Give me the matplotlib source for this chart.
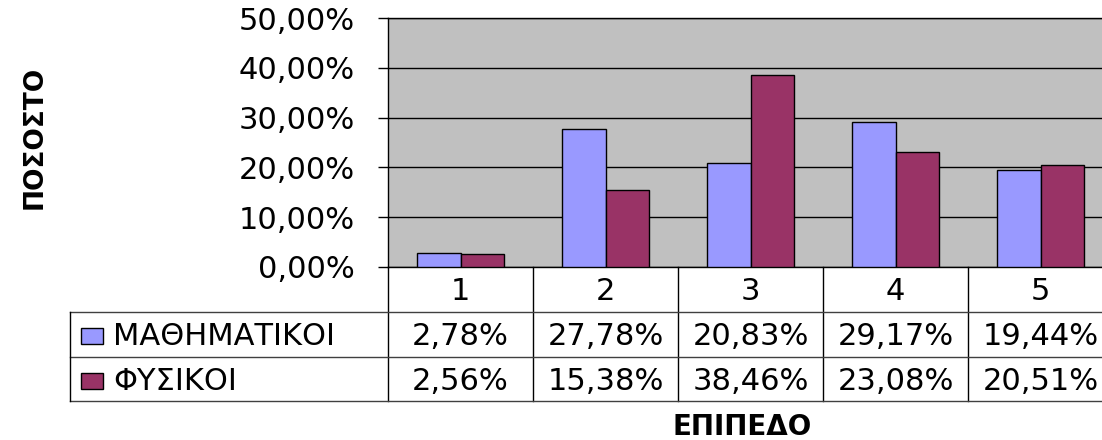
import matplotlib
matplotlib.use('Agg')
import matplotlib.pyplot as plt
import matplotlib.transforms as mtransforms
from matplotlib.patches import Rectangle
from matplotlib.ticker import FuncFormatter, MultipleLocator

# data (percent)
levels = ['1', '2', '3', '4', '5']
series_names = ['ΜΑΘΗΜΑΤΙΚΟΙ', 'ΦΥΣΙΚΟΙ']
math_pct = [2.78, 27.78, 20.83, 29.17, 19.44]
phys_pct = [2.56, 15.38, 38.46, 23.08, 20.51]
colors = ['#9999ff', '#993366']


def pct(v):
    return f'{v:.2f}%'.replace('.', ',')


plt.rcParams['font.family'] = ['DejaVu Sans']

W, H = 1102, 440
fig = plt.figure(figsize=(W / 100, H / 100), dpi=100)

# plot area in pixels (Excel-like layout, right side is cut by the image edge)
left, right, top, bottom = 388, 1102, 18, 267
col_w = 145
ax = fig.add_axes([left / W, 1 - bottom / H, (right - left) / W, (bottom - top) / H])
ax.set_facecolor('#c0c0c0')

x = list(range(len(levels)))
bw = 0.3
ax.bar([i - bw / 2 for i in x], math_pct, bw, color=colors[0], edgecolor='black', lw=1, zorder=3)
ax.bar([i + bw / 2 for i in x], phys_pct, bw, color=colors[1], edgecolor='black', lw=1, zorder=3)

ax.set_ylim(0, 50)
ax.set_xlim(-0.5, -0.5 + (right - left) / col_w)
ax.yaxis.set_major_locator(MultipleLocator(10))
ax.yaxis.set_major_formatter(FuncFormatter(lambda v, p: pct(v)))
ax.grid(axis='y', color='black', lw=1, zorder=1)
ax.set_axisbelow(True)
ax.set_xticks([])
ax.tick_params(axis='y', length=7, width=1, pad=17, labelsize=22)
ax.spines['right'].set_visible(False)
for s in ['left', 'top', 'bottom']:
    ax.spines[s].set_linewidth(1)


# helpers: pixel -> axes coords
def ay(py):
    return (bottom - py) / (bottom - top)


def axx(px):
    return (px - left) / (right - left)


trans = mtransforms.blended_transform_factory(ax.transData, ax.transAxes)
row_lines = [ay(312), ay(357), ay(401)]
line_kw = dict(color='black', lw=1, clip_on=False)

# column separators of the data table
for k in range(len(levels) + 1):
    xv = -0.5 + k
    ax.plot([xv, xv], [0, row_lines[-1]], transform=trans, **line_kw)

# row separators
for yv in row_lines:
    ax.plot([axx(70), 1], [yv, yv], transform=ax.transAxes, color='#404040', lw=1, clip_on=False)
ax.plot([axx(70), axx(70)], [row_lines[0], row_lines[-1]], transform=ax.transAxes, **line_kw)

# category labels
for i, lab in enumerate(levels):
    ax.text(i, ay(291), lab, transform=trans, ha='center', va='center', fontsize=22, clip_on=False)

# table rows
row_y = [ay(336), ay(381)]
for r, (name, vals) in enumerate(zip(series_names, [math_pct, phys_pct])):
    ax.add_patch(Rectangle((axx(81), row_y[r] - 8 / (bottom - top)), 22 / (right - left), 16 / (bottom - top),
                           transform=ax.transAxes, facecolor=colors[r], edgecolor='black', lw=1, clip_on=False))
    ax.text(axx(113), row_y[r], name, transform=ax.transAxes, ha='left', va='center', fontsize=22, clip_on=False)
    for i, v in enumerate(vals):
        ax.text(i, row_y[r], pct(v), transform=trans, ha='center', va='center', fontsize=22, clip_on=False)

fig.text(35 / W, 1 - 137 / H, 'ΠΟΣΟΣΤΟ', rotation=90, fontsize=19, fontweight='bold', ha='center', va='center')
fig.text(742 / W, 1 - 427 / H, 'ΕΠΙΠΕΔΟ', fontsize=20, fontweight='bold', ha='center', va='center')

fig.savefig('out.png', dpi=100)
